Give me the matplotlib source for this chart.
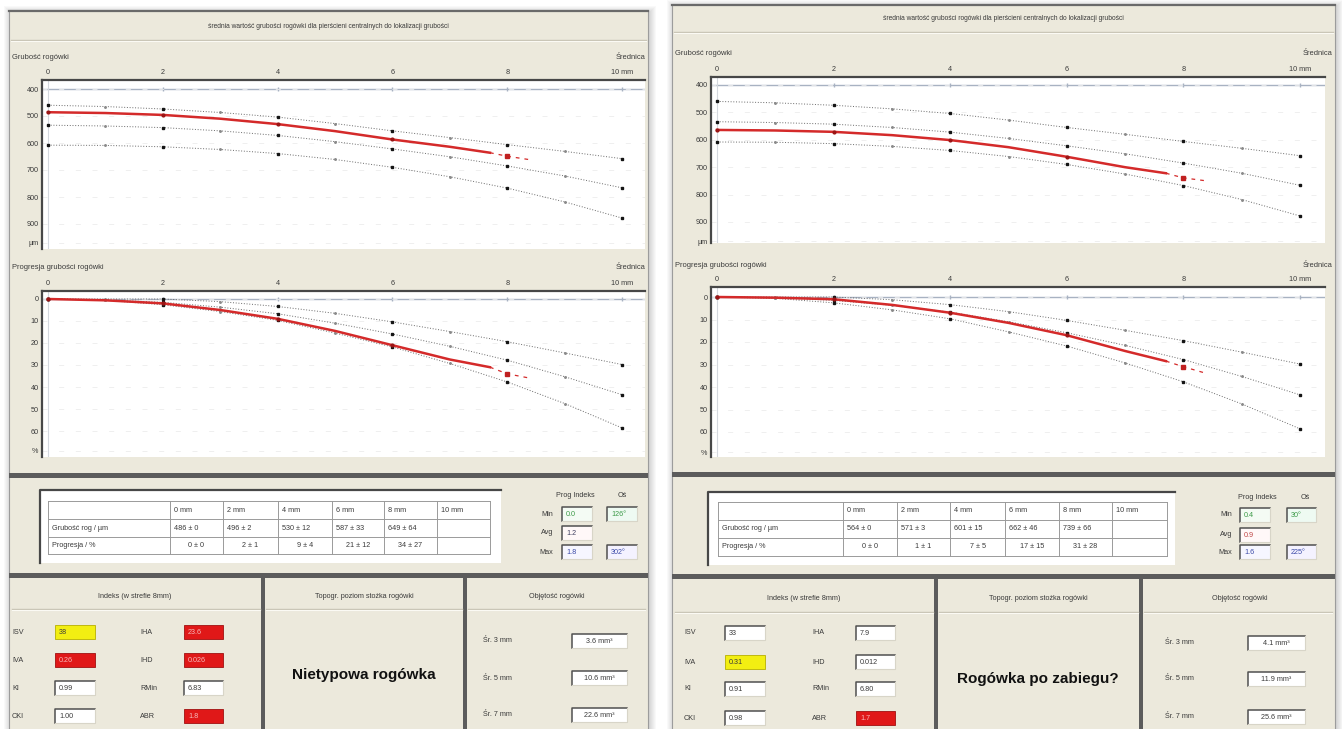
import matplotlib.pyplot as plt
from matplotlib.patches import Rectangle
from matplotlib.transforms import ScaledTranslation

plt.rcParams['font.family'] = ['Liberation Sans', 'DejaVu Sans']

W, H = 1342, 729
DPI = 100

# normative ring curves (same for both eyes)
norm_mm = [0, 1, 2, 3, 4, 5, 6, 7, 8, 9, 10]
norm_thk_thin = [460, 465, 474, 487, 504, 528, 555, 580, 606, 631, 658]
norm_thk_mid = [534, 537, 543, 555, 572, 595, 622, 651, 685, 722, 766]
norm_thk_thick = [608, 609, 614, 624, 639, 661, 690, 725, 767, 818, 878]
norm_prog_low = [0, 0, 0, 1.2, 3.4, 6.5, 10.4, 14.8, 19.4, 24.5, 29.8]
norm_prog_mid = [0, 0.4, 1.5, 3.7, 6.7, 11, 15.9, 21.5, 27.8, 35.3, 43.5]
norm_prog_high = [0, 0.6, 2.6, 5.7, 9.7, 15.5, 21.8, 29.3, 37.7, 47.5, 58.6]

# measured profile: solid part, then dashed tail past 8 mm
exam_mm = [0, 1, 2, 3, 4, 5, 6, 7, 7.7]
tail_mm = [7.7, 8, 8.4]
ring_mm = [0, 2, 4, 6, 8]
ring_labels = ['0 mm', '2 mm', '4 mm', '6 mm', '8 mm', '10 mm']

# eye A
a_thk = [486, 489, 496, 510, 530, 556, 587, 614, 636]
a_thk_end = 662
a_thk_mean = [486, 496, 530, 587, 649]
a_thk_sd = [0, 2, 12, 33, 64]
a_prog = [0, 0.6, 2, 5, 9, 14.5, 21, 27.5, 31]
a_prog_end = 36
a_prog_mean = [0, 2, 9, 21, 34]
a_prog_sd = [0, 1, 4, 12, 27]

# eye B
b_thk = [564, 566, 571, 583, 601, 627, 662, 700, 722]
b_thk_end = 750
b_thk_mean = [564, 571, 601, 662, 739]
b_thk_sd = [0, 3, 15, 46, 66]
b_prog = [0, 0.3, 1, 3.5, 7, 11.5, 17, 24, 28.5]
b_prog_end = 34
b_prog_mean = [0, 1, 7, 17, 31]
b_prog_sd = [0, 1, 5, 15, 28]

prog_names = ['Min', 'Avg', 'Max']
a_prog_idx = ['0.0', '1.2', '1.8']
a_prog_axis = ['126°', '', '302°']
b_prog_idx = ['0.4', '0.9', '1.6']
b_prog_axis = ['30°', '', '225°']

idx_names_1 = ['ISV', 'IVA', 'KI', 'CKI']
idx_names_2 = ['IHA', 'IHD', 'RMin', 'ABR']
a_idx_1 = ['38', '0.26', '0.99', '1.00']
a_flag_1 = ['yellow', 'red', '', '']
a_idx_2 = ['23.6', '0.026', '6.83', '1.8']
a_flag_2 = ['red', 'red', '', 'red']
b_idx_1 = ['33', '0.31', '0.91', '0.98']
b_flag_1 = ['', 'yellow', '', '']
b_idx_2 = ['7.9', '0.012', '6.80', '1.7']
b_flag_2 = ['', '', '', 'red']

vol_names = ['Śr. 3 mm', 'Śr. 5 mm', 'Śr. 7 mm']
a_vol = [3.6, 10.6, 22.6]
b_vol = [4.1, 11.9, 25.6]

a_verdict = 'Nietypowa rogówka'
b_verdict = 'Rogówka po zabiegu?'

TITLE = 'średnia wartość grubości rogówki dla pierścieni centralnych do lokalizacji grubości'
SUBTITLES = ['Indeks (w strefie 8mm)', 'Topogr. poziom stożka rogówki', 'Objętość rogówki']

BEIGE = '#ECE9DC'
DARK = '#5c5c5c'
TXT = '#3a3a3a'
RED_LINE = '#d42a2a'
FLAG = {'red': '#e01818', 'yellow': '#f2ee12', '': 'white'}
SMALL = 5.2

fig = plt.figure(figsize=(W / DPI, H / DPI), dpi=DPI)
bg = fig.add_axes([0, 0, 1, 1])
bg.set_xlim(0, W)
bg.set_ylim(H, 0)
bg.axis('off')


def rect(x0, y0, x1, y1, **kw):
    bg.add_patch(Rectangle((x0, y0), x1 - x0, y1 - y0, **kw))


def label(x, y, s, size=SMALL, **kw):
    kw.setdefault('color', TXT)
    kw.setdefault('va', 'center')
    bg.text(x, y, s, fontsize=size, **kw)


def edit_box(x0, x1, yc, s, fill='white', color=TXT, ha='left', h=14):
    y0, y1 = yc - h / 2, yc + h / 2
    if fill in (FLAG['red'], FLAG['yellow']):
        # flagged value: flat coloured field
        edge = '#a01010' if fill == FLAG['red'] else '#b8b000'
        rect(x0, y0, x1, y1, facecolor=fill, edgecolor=edge, lw=0.6)
        if fill == FLAG['red']:
            color = '#f6b8b8'
    else:
        # sunken windows edit field
        rect(x0, y0, x1, y1, facecolor=fill, edgecolor='none')
        bg.plot([x0, x0, x1], [y1, y0, y0], color='#505050', lw=1.1)
        bg.plot([x0, x1, x1], [y1, y1, y0], color='#d8d5c8', lw=0.8)
    tx = x0 + 4 if ha == 'left' else (x0 + x1) / 2
    label(tx, yc + 0.5, s, ha=ha, color=color, size=SMALL)


def curve_axes(frame, mm0, pxmm, yref_px, yref, pxunit, yticks, ylabels):
    x0, y0, x1, y1 = frame
    ax = fig.add_axes([x0 / W, 1 - y1 / H, (x1 - x0) / W, (y1 - y0) / H])
    ax.set_xlim((x0 - mm0) / pxmm, (x1 - mm0) / pxmm)
    ax.set_ylim(yref + (y1 - yref_px) / pxunit, yref + (y0 - yref_px) / pxunit)
    ax.xaxis.tick_top()
    ax.set_xticks([0, 2, 4, 6, 8, 10], ['0', '2', '4', '6', '8', '10 mm'])
    last = ax.get_xticklabels()[-1]
    last.set_transform(last.get_transform() + ScaledTranslation(0.07, 0, fig.dpi_scale_trans))
    ax.set_yticks(yticks, ylabels)
    ax.tick_params(length=0, labelsize=SMALL, colors=TXT, pad=3)
    ax.tick_params(axis='y', pad=2.5)
    for side in ('right', 'bottom'):
        ax.spines[side].set_visible(False)
    for side in ('top', 'left'):
        ax.spines[side].set_color('#474747')
        ax.spines[side].set_linewidth(1.6)
    ax.grid(axis='y', color='#ececec', lw=0.6, ls=(0, (6, 14)))
    ax.axhline(yref, color='#a8b2c2', lw=1.0, zorder=1)
    ax.plot([2, 4, 6, 8, 10], [yref] * 5, ls='none', marker='|', ms=3, color='#a8b2c2', zorder=1)
    ax.axvline(0, color='#d4d8de', lw=0.8, zorder=1)
    return ax


def draw_norms(ax, curves):
    for ys in curves:
        ax.plot(norm_mm, ys, color='#6a6a6a', lw=0.7, ls=(0, (1, 1.8)),
                marker='.', ms=2.2, mfc='#8a8a8a', mec='#8a8a8a', zorder=3)
        ax.plot(norm_mm[::2], ys[::2], ls='none', marker='s', ms=2.0, color='#151515', zorder=4)


def draw_exam(ax, ys, at8, end):
    ax.plot(exam_mm, ys, color=RED_LINE, lw=1.8, zorder=5)
    ax.plot(exam_mm[:7:2], ys[:7:2], ls='none', marker='o', ms=2.0, color='#9a1515', zorder=6)
    ax.plot(tail_mm, [ys[-1], at8, end], color=RED_LINE, lw=0.9, ls=(0, (3, 4)), zorder=5)
    ax.plot(8, at8, marker='s', ms=2.4, color='#c02020', zorder=6)


def draw_panel(g, d):
    x0, top, x1 = g['x0'], g['top'], g['x1']
    # soft drop shadow
    for i in range(1, 8):
        rect(x0 - i + 2, top - i + 3, x1 + i + 1, H + 10, facecolor='black', alpha=0.022, edgecolor='none')
    rect(x0, top, x1, H + 5, facecolor=BEIGE, edgecolor='#9c9c9c', lw=0.8)
    bg.plot([x0, x1], [top + 1, top + 1], color='#6a6a6a', lw=1.6)
    bg.plot([x0 + 2, x1 - 2], [g['bar'], g['bar']], color='#c8c4b4', lw=1.0)
    bg.plot([x0 + 2, x1 - 2], [g['bar'] + 1, g['bar'] + 1], color='#fbfaf4', lw=0.8)
    label((x0 + x1) / 2, g['title_y'], TITLE, ha='center', size=4.8)

    # thickness profile
    ax = curve_axes(g['thk_frame'], g['mm0'], g['pxmm'], g['thk_ref'], 400, g['thk_unit'],
                    [400, 500, 600, 700, 800, 900, 970],
                    ['400', '500', '600', '700', '800', '900', 'µm'])
    draw_norms(ax, [norm_thk_thin, norm_thk_mid, norm_thk_thick])
    draw_exam(ax, d['thk'], d['thk_mean'][4], d['thk_end'])
    label(x0 + 3, g['thk_label_y'], 'Grubość rogówki', size=5.4)
    label(x1 - 3, g['thk_label_y'], 'Średnica', ha='right', size=5.4)

    # thickness progression
    ax = curve_axes(g['prog_frame'], g['mm0'], g['pxmm'], g['prog_ref'], 0, g['prog_unit'],
                    [0, 10, 20, 30, 40, 50, 60, 69],
                    ['0', '10', '20', '30', '40', '50', '60', '%'])
    draw_norms(ax, [norm_prog_low, norm_prog_mid, norm_prog_high])
    draw_exam(ax, d['prog'], d['prog_mean'][4], d['prog_end'])
    label(x0 + 3, g['prog_label_y'], 'Progresja grubości rogówki', size=5.4)
    label(x1 - 3, g['prog_label_y'], 'Średnica', ha='right', size=5.4)

    # separators
    for yb in g['seps']:
        rect(x0, yb, x1, yb + 5, facecolor=DARK, edgecolor='none')
    for xv in g['vseps']:
        rect(xv, g['seps'][1] + 5, xv + 4, H + 5, facecolor=DARK, edgecolor='none')

    # ring table
    tx0, ty0, tx1, ty1 = g['table_box']
    rect(tx0, ty0, tx1, ty1, facecolor='white', edgecolor='none')
    bg.plot([tx0, tx0, tx1], [ty1, ty0, ty0], color='#474747', lw=1.6)
    cols, rows = g['cols'], g['rows']
    for yy in rows:
        bg.plot([cols[0], cols[-1]], [yy, yy], color='#9a9a9a', lw=0.7)
    for xx in cols:
        bg.plot([xx, xx], [rows[0], rows[-1]], color='#9a9a9a', lw=0.7)
    mids = [(rows[i] + rows[i + 1]) / 2 for i in range(3)]
    for i, s in enumerate(ring_labels):
        label(cols[i + 1] + 4, mids[0], s)
    label(cols[0] + 4, mids[1], 'Grubość rog / µm')
    label(cols[0] + 4, mids[2], 'Progresja / %')
    for i in range(len(ring_mm)):
        label(cols[i + 1] + 4, mids[1], f"{d['thk_mean'][i]} ± {d['thk_sd'][i]}")
        label((cols[i + 1] + cols[i + 2]) / 2, mids[2], f"{d['prog_mean'][i]} ± {d['prog_sd'][i]}", ha='center')

    # progression index
    hx1, hx2 = g['pi_head_x']
    label(hx1, g['pi_head_y'], 'Prog Indeks', ha='center')
    label(hx2, g['pi_head_y'], 'Oś', ha='center')
    (bx0, bx1), (ox0, ox1) = g['pi_boxes']
    val_colors = ['#3c9a48', d['avg_color'], '#3b4aa8']
    val_fills = ['#f4fbf4', '#fff8f8', '#f6f6ff']
    axis_fills = ['#eefaf2', 'white', '#f4f2ff']
    for i, yy in enumerate(g['pi_rows']):
        label(g['pi_label_x'], yy, prog_names[i], ha='right')
        edit_box(bx0, bx1, yy, d['prog_idx'][i], fill=val_fills[i], color=val_colors[i])
        if d['prog_axis'][i]:
            edit_box(ox0, ox1, yy, d['prog_axis'][i], fill=axis_fills[i], color=val_colors[i])

    # lower sub-panels
    for cx, s in zip(g['sub_x'], SUBTITLES):
        label(cx, g['sub_y'], s, ha='center')
    edges = [x0 + 2, g['vseps'][0], g['vseps'][0] + 4, g['vseps'][1], g['vseps'][1] + 4, x1 - 2]
    for a, b in [(edges[0], edges[1]), (edges[2], edges[3]), (edges[4], edges[5])]:
        bg.plot([a + 1, b - 1], [g['sub_line'], g['sub_line']], color='#c8c4b4', lw=1.0)
        bg.plot([a + 1, b - 1], [g['sub_line'] + 1, g['sub_line'] + 1], color='#fbfaf4', lw=0.8)

    (lx1, lx2) = g['idx_label_x']
    (b1, b2) = g['idx_boxes']
    for i, yy in enumerate(g['idx_rows']):
        label(lx1, yy, idx_names_1[i])
        label(lx2, yy, idx_names_2[i])
        edit_box(b1[0], b1[1], yy, d['idx_1'][i], fill=FLAG[d['flag_1'][i]])
        edit_box(b2[0], b2[1], yy, d['idx_2'][i], fill=FLAG[d['flag_2'][i]])

    label(g['verdict_xy'][0], g['verdict_xy'][1], d['verdict'], ha='center', size=11,
          weight='bold', color='#111111')

    vb0, vb1 = g['vol_boxes']
    for i, yy in enumerate(g['vol_rows']):
        label(g['vol_label_x'], yy, vol_names[i])
        edit_box(vb0, vb1, yy, f"{d['vol'][i]} mm³", ha='center')


left_layout = dict(
    x0=9, x1=648, top=10, bar=40, title_y=26,
    thk_frame=(42, 80, 645, 249), prog_frame=(42, 291, 645, 457),
    mm0=48, pxmm=57.4, thk_ref=89, thk_unit=0.27, prog_ref=299, prog_unit=2.2,
    thk_label_y=57, prog_label_y=267,
    seps=(473, 573), vseps=(261, 463),
    table_box=(40, 490, 501, 563), cols=[48, 170, 223, 278, 332, 384, 437, 490],
    rows=[501, 519, 537, 554],
    pi_head_x=(575, 622), pi_head_y=495, pi_label_x=553,
    pi_boxes=((562, 592), (607, 637)), pi_rows=(514, 533, 552),
    sub_x=(135, 364, 557), sub_y=596, sub_line=609,
    idx_label_x=(12, 140), idx_boxes=((55, 95), (184, 223)), idx_rows=(632, 660, 688, 716),
    verdict_xy=(364, 675),
    vol_label_x=483, vol_boxes=(572, 627), vol_rows=(641, 678, 715),
)

right_layout = dict(
    x0=672, x1=1335, top=4, bar=32, title_y=18,
    thk_frame=(711, 77, 1325, 243), prog_frame=(711, 287, 1325, 457),
    mm0=717, pxmm=58.3, thk_ref=85, thk_unit=0.274, prog_ref=297, prog_unit=2.25,
    thk_label_y=53, prog_label_y=265,
    seps=(472, 574), vseps=(934, 1139),
    table_box=(708, 492, 1175, 565), cols=[718, 843, 897, 950, 1005, 1059, 1112, 1167],
    rows=[502, 520, 538, 556],
    pi_head_x=(1257, 1305), pi_head_y=497, pi_label_x=1232,
    pi_boxes=((1240, 1270), (1287, 1316)), pi_rows=(515, 535, 552),
    sub_x=(804, 1038, 1240), sub_y=598, sub_line=612,
    idx_label_x=(684, 812), idx_boxes=((725, 765), (856, 895)), idx_rows=(633, 662, 689, 718),
    verdict_xy=(1038, 679),
    vol_label_x=1165, vol_boxes=(1248, 1305), vol_rows=(643, 679, 717),
)

eye_a = dict(thk=a_thk, thk_end=a_thk_end, thk_mean=a_thk_mean, thk_sd=a_thk_sd,
             prog=a_prog, prog_end=a_prog_end, prog_mean=a_prog_mean, prog_sd=a_prog_sd,
             prog_idx=a_prog_idx, prog_axis=a_prog_axis, avg_color='#404060',
             idx_1=a_idx_1, flag_1=a_flag_1, idx_2=a_idx_2, flag_2=a_flag_2,
             vol=a_vol, verdict=a_verdict)
eye_b = dict(thk=b_thk, thk_end=b_thk_end, thk_mean=b_thk_mean, thk_sd=b_thk_sd,
             prog=b_prog, prog_end=b_prog_end, prog_mean=b_prog_mean, prog_sd=b_prog_sd,
             prog_idx=b_prog_idx, prog_axis=b_prog_axis, avg_color='#c04848',
             idx_1=b_idx_1, flag_1=b_flag_1, idx_2=b_idx_2, flag_2=b_flag_2,
             vol=b_vol, verdict=b_verdict)

draw_panel(left_layout, eye_a)
draw_panel(right_layout, eye_b)

fig.savefig('out.png', dpi=DPI, facecolor='white')
